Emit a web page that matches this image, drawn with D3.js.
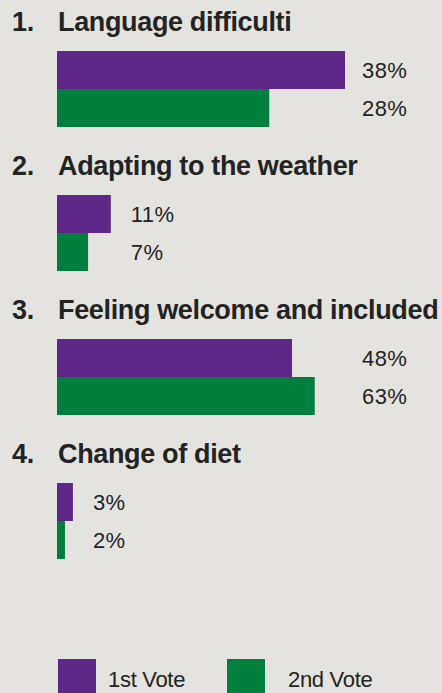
<!DOCTYPE html>
<html><head><meta charset="utf-8">
<script src="https://cdn.jsdelivr.net/npm/d3@7"></script>
<style>
html,body{margin:0;padding:0;background:#e4e3df;overflow:hidden}
svg{display:block}
</style></head>
<body>
<svg id="c" width="442" height="693"></svg>
<script>
// ---- data ----
const numbers = ["1.", "2.", "3.", "4."];
const categories = ["Language difficulti", "Adapting to the weather", "Feeling welcome and included", "Change of diet"];
const seriesNames = ["1st Vote", "2nd Vote"];
// bar lengths as drawn in the picture (shared scale)
const firstVote = [38, 7.1, 31.0, 2.1];
const secondVote = [28, 4.1, 34.0, 1.05];
// printed value labels
const firstLabels = ["38%", "11%", "48%", "3%"];
const secondLabels = ["28%", "7%", "63%", "2%"];

// ---- layout ----
const W = 442, H = 693;
const colors = ["#5f2787", "#007f3e"];
const textColor = "#232323";
const svg = d3.select("#c");
svg.append("rect").attr("width", W).attr("height", H).attr("fill", "#e4e3df");

const x = d3.scaleLinear().domain([0, 50]).range([57, 436]);
const yTitle = d3.scalePoint().domain(categories).range([31, 463]);
const barH = 38;
const labelGap = 20;
const labelColumn = 362;

const rows = categories.map((c, i) => ({
  num: numbers[i], cat: c,
  vals: [firstVote[i], secondVote[i]],
  labels: [firstLabels[i], secondLabels[i]]
}));

const g = svg.selectAll("g.grp").data(rows).join("g").attr("class", "grp");

g.append("text")
  .attr("x", 12).attr("y", d => yTitle(d.cat))
  .attr("font-family", "Liberation Sans, Arial, sans-serif")
  .attr("font-weight", 700).attr("font-size", 27).attr("letter-spacing", -0.35)
  .attr("fill", textColor).text(d => d.num);

g.append("text")
  .attr("x", 58).attr("y", d => yTitle(d.cat))
  .attr("font-family", "Liberation Sans, Arial, sans-serif")
  .attr("font-weight", 700).attr("font-size", 27).attr("letter-spacing", -0.35)
  .attr("fill", textColor).text(d => d.cat);

g.each(function(d) {
  const sel = d3.select(this);
  const top = yTitle(d.cat) + 20;
  const groupEnd = x(d3.max(d.vals));
  let lx = groupEnd + labelGap;
  if (lx > 250) lx = labelColumn;
  d.vals.forEach((v, j) => {
    sel.append("rect")
      .attr("x", x(0)).attr("y", top + j * barH)
      .attr("width", x(v) - x(0)).attr("height", barH)
      .attr("fill", colors[j]);
    sel.append("text")
      .attr("x", lx).attr("y", top + j * barH + 27)
      .attr("font-family", "Liberation Sans, Arial, sans-serif")
      .attr("font-size", 22).attr("letter-spacing", 0.4)
      .attr("fill", textColor).text(d.labels[j]);
  });
});

// legend
const legX = d3.scalePoint().domain(seriesNames).range([58, 227]);
const leg = svg.selectAll("g.leg").data(seriesNames).join("g").attr("class", "leg");
leg.append("rect").attr("x", d => legX(d)).attr("y", 659)
  .attr("width", 38).attr("height", 38).attr("fill", (d, i) => colors[i]);
leg.append("text").attr("x", d => legX(d) + (d === seriesNames[0] ? 50 : 61)).attr("y", 687)
  .attr("font-family", "Liberation Sans, Arial, sans-serif")
  .attr("font-size", 22).attr("letter-spacing", -0.3)
  .attr("fill", textColor).text(d => d);
</script>
</body></html>
